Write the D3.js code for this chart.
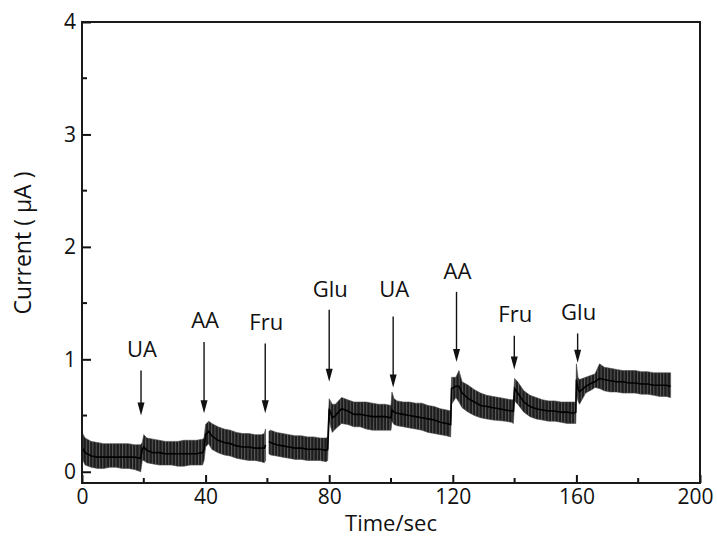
<!DOCTYPE html>
<html>
<head>
<meta charset="utf-8">
<script src="https://cdn.jsdelivr.net/npm/d3@7"></script>
<style>
  html, body { margin: 0; padding: 0; background: #fff; }
  svg { display: block; }
  text { font-family: "Open Sans", "DejaVu Sans", sans-serif; fill: #111; }
</style>
</head>
<body>
<svg id="chart" width="717" height="538"></svg>
<script>
// ---- data ----
const time = [0, 1, 3, 5, 7, 9, 11, 13, 15, 17, 19, 19.5,
  20, 21, 23, 25, 27, 29, 31, 33, 35, 37, 39, 39.5,
  40, 41, 42, 44, 46, 48, 50, 52, 54, 56, 58, 59, 59.4,
  60, 60.5, 61, 63, 65, 67, 69, 71, 73, 75, 77, 79, 79.5,
  80, 81, 82, 84, 86, 88, 90, 92, 94, 96, 98, 100, 100.3,
  101, 102, 104, 106, 108, 110, 112, 114, 116, 118, 119.3,
  119.6, 121, 122, 123, 125, 127, 129, 131, 133, 135, 137, 139, 139.6,
  140, 141, 143, 145, 147, 149, 151, 153, 155, 157, 159, 159.8,
  160, 160.5, 161, 163, 165, 166, 167.5, 169, 171, 173, 175, 177, 179, 181, 183, 185, 187, 189, 190.5];
const upper = [0.35, 0.30, 0.27, 0.26, 0.25, 0.25, 0.25, 0.25, 0.25, 0.24, 0.24, 0.26,
  0.33, 0.30, 0.29, 0.28, 0.27, 0.27, 0.27, 0.28, 0.28, 0.28, 0.29, 0.30,
  0.42, 0.45, 0.43, 0.40, 0.38, 0.37, 0.35, 0.34, 0.34, 0.33, 0.33, 0.34, 0.38,
  null, 0.36, 0.37, 0.35, 0.34, 0.33, 0.32, 0.32, 0.31, 0.31, 0.30, 0.30, 0.31,
  0.65, 0.60, 0.60, 0.66, 0.64, 0.62, 0.62, 0.62, 0.61, 0.60, 0.60, 0.59, 0.71,
  0.65, 0.63, 0.62, 0.62, 0.61, 0.61, 0.59, 0.58, 0.56, 0.55, 0.54,
  0.84, 0.84, 0.90, 0.80, 0.77, 0.73, 0.70, 0.68, 0.67, 0.66, 0.65, 0.64, 0.64,
  0.83, 0.80, 0.72, 0.68, 0.66, 0.64, 0.63, 0.63, 0.62, 0.62, 0.62, 0.62,
  0.96, 0.84, 0.82, 0.84, 0.86, 0.87, 0.96, 0.93, 0.92, 0.91, 0.90, 0.90, 0.90, 0.89, 0.89, 0.88, 0.88, 0.88, 0.88];
const lower = [0.12, 0.06, 0.04, 0.03, 0.03, 0.04, 0.04, 0.03, 0.03, 0.02, 0.00, 0.10,
  0.10, 0.08, 0.07, 0.06, 0.06, 0.06, 0.05, 0.05, 0.06, 0.06, 0.06, 0.10,
  0.22, 0.25, 0.20, 0.17, 0.15, 0.14, 0.12, 0.11, 0.10, 0.10, 0.09, 0.08, 0.10,
  null, 0.16, 0.15, 0.14, 0.13, 0.12, 0.11, 0.11, 0.10, 0.10, 0.10, 0.09, 0.10,
  0.45, 0.35, 0.38, 0.43, 0.42, 0.40, 0.40, 0.38, 0.37, 0.37, 0.37, 0.37, 0.45,
  0.42, 0.41, 0.40, 0.39, 0.38, 0.37, 0.35, 0.34, 0.33, 0.32, 0.31,
  0.60, 0.66, 0.62, 0.57, 0.53, 0.50, 0.48, 0.47, 0.46, 0.455, 0.45, 0.44, 0.43,
  0.63, 0.60, 0.53, 0.49, 0.47, 0.46, 0.45, 0.45, 0.44, 0.43, 0.43, 0.43,
  0.70, 0.63, 0.60, 0.70, 0.73, 0.75, 0.74, 0.72, 0.71, 0.71, 0.70, 0.70, 0.70, 0.69, 0.69, 0.68, 0.67, 0.67, 0.66];
const middle = [0.22, 0.17, 0.14, 0.13, 0.13, 0.13, 0.13, 0.13, 0.13, 0.13, 0.12, 0.20,
  0.22, 0.19, 0.17, 0.17, 0.16, 0.16, 0.16, 0.16, 0.16, 0.16, 0.17, 0.20,
  0.33, 0.36, 0.32, 0.28, 0.26, 0.25, 0.23, 0.22, 0.22, 0.21, 0.21, 0.21, 0.24,
  null, 0.27, 0.26, 0.24, 0.23, 0.22, 0.21, 0.21, 0.20, 0.20, 0.20, 0.19, 0.20,
  0.56, 0.48, 0.50, 0.56, 0.54, 0.51, 0.51, 0.50, 0.49, 0.49, 0.49, 0.48, 0.55,
  0.53, 0.52, 0.51, 0.50, 0.49, 0.48, 0.47, 0.46, 0.44, 0.43, 0.42,
  0.74, 0.76, 0.76, 0.70, 0.65, 0.62, 0.59, 0.58, 0.57, 0.56, 0.55, 0.54, 0.54,
  0.74, 0.70, 0.62, 0.58, 0.56, 0.55, 0.54, 0.54, 0.53, 0.53, 0.52, 0.53,
  0.82, 0.74, 0.71, 0.76, 0.79, 0.80, 0.83, 0.82, 0.81, 0.80, 0.80, 0.79, 0.79, 0.78, 0.78, 0.77, 0.77, 0.77, 0.76];

// injection annotations
const injLabels = ["UA", "AA", "Fru", "Glu", "UA", "AA", "Fru", "Glu"];
const injTime   = [19.1, 39.5, 59.3, 80.0, 100.7, 121.2, 139.9, 160.4];
const arrowTop  = [0.90, 1.155, 1.14, 1.44, 1.38, 1.60, 1.21, 1.23];
const arrowTip  = [0.50, 0.52, 0.52, 0.80, 0.75, 0.976, 0.91, 0.97];
const labelBase = [1.02, 1.28, 1.26, 1.55, 1.55, 1.71, 1.33, 1.35];

const xTicks = [0, 40, 80, 120, 160, 200];
const xMinor = [20, 60, 100, 140, 180];
const yTicks = [0, 1, 2, 3, 4];
const yMinor = [0.5, 1.5, 2.5, 3.5];

// ---- layout ----
const svg = d3.select("#chart");
const L = 82, R = 700, T = 22, B = 483;
const x = d3.scaleLinear().domain([0, 200]).range([L, R]);
const y = d3.scaleLinear().domain([-0.1, 4]).range([B, T]);

const rows = time.map((t, i) => ({t, hi: upper[i], lo: lower[i], mid: middle[i]}));

// stripe pattern for the oscillating current band
const defs = svg.append("defs");
const pat = defs.append("pattern").attr("id", "stripes")
  .attr("patternUnits", "userSpaceOnUse").attr("width", 3.3).attr("height", 10);
pat.append("rect").attr("width", 3.3).attr("height", 10).attr("fill", "#1c1c1c");
pat.append("rect").attr("x", 0).attr("width", 1).attr("height", 10).attr("fill", "#5c5c5c");

const def = d => d.hi !== null;
const area = d3.area().defined(def).x(d => x(d.t)).y0(d => y(d.lo)).y1(d => y(d.hi));
svg.append("path").datum(rows).attr("d", area).attr("fill", "url(#stripes)")
  .attr("stroke", "#444").attr("stroke-width", 0.6);

const line = d3.line().defined(def).x(d => x(d.t)).y(d => y(d.mid));
svg.append("path").datum(rows).attr("d", line).attr("fill", "none")
  .attr("stroke", "#000").attr("stroke-width", 1.6);

// ---- axes ----
const ax = svg.append("g").attr("transform", `translate(0,${B})`)
  .call(d3.axisBottom(x).tickValues(xTicks).tickSizeInner(-8).tickSizeOuter(0).tickPadding(6));
const ay = svg.append("g").attr("transform", `translate(${L},0)`)
  .call(d3.axisLeft(y).tickValues(yTicks).tickFormat(d3.format("d")).tickSizeInner(-9).tickSizeOuter(0).tickPadding(6));
[ax, ay].forEach(g => {
  g.select(".domain").remove();
  g.selectAll(".tick line").attr("stroke", "#111").attr("stroke-width", 2);
  g.selectAll(".tick text").attr("font-size", 21).attr("font-family", "'Open Sans', sans-serif").attr("fill", "#111");
});
ax.selectAll(".tick text").filter(d => d === 200).attr("dx", -5);
svg.append("g").selectAll("line").data(xMinor).join("line")
  .attr("x1", d => x(d)).attr("x2", d => x(d)).attr("y1", B).attr("y2", B - 5)
  .attr("stroke", "#111").attr("stroke-width", 2);
svg.append("g").selectAll("line").data(yMinor).join("line")
  .attr("x1", L).attr("x2", L + 5).attr("y1", d => y(d)).attr("y2", d => y(d))
  .attr("stroke", "#111").attr("stroke-width", 2);

svg.append("rect").attr("x", L).attr("y", T).attr("width", R - L).attr("height", B - T)
  .attr("fill", "none").attr("stroke", "#1a1a1a").attr("stroke-width", 2);

// ---- annotations ----
const ann = svg.append("g");
injTime.forEach((t, i) => {
  const xs = x(t), y0 = y(arrowTop[i]), y1 = y(arrowTip[i]);
  ann.append("line").attr("x1", xs).attr("x2", xs).attr("y1", y0).attr("y2", y1 - 10)
    .attr("stroke", "#111").attr("stroke-width", 1.4);
  ann.append("path").attr("d", `M${xs - 3.5},${y1 - 13} L${xs + 3.5},${y1 - 13} L${xs},${y1} Z`)
    .attr("fill", "#111");
  ann.append("text").attr("x", xs + 1).attr("y", y(labelBase[i]))
    .attr("text-anchor", "middle").attr("font-size", 22).text(injLabels[i]);
});

// ---- titles ----
svg.append("text").attr("x", 391).attr("y", 531).attr("text-anchor", "middle")
  .attr("font-size", 22).text("Time/sec");
svg.append("text").attr("transform", "translate(31,243) rotate(-90)").attr("text-anchor", "middle")
  .attr("font-size", 23).text("Current ( μA )");
</script>
</body>
</html>
